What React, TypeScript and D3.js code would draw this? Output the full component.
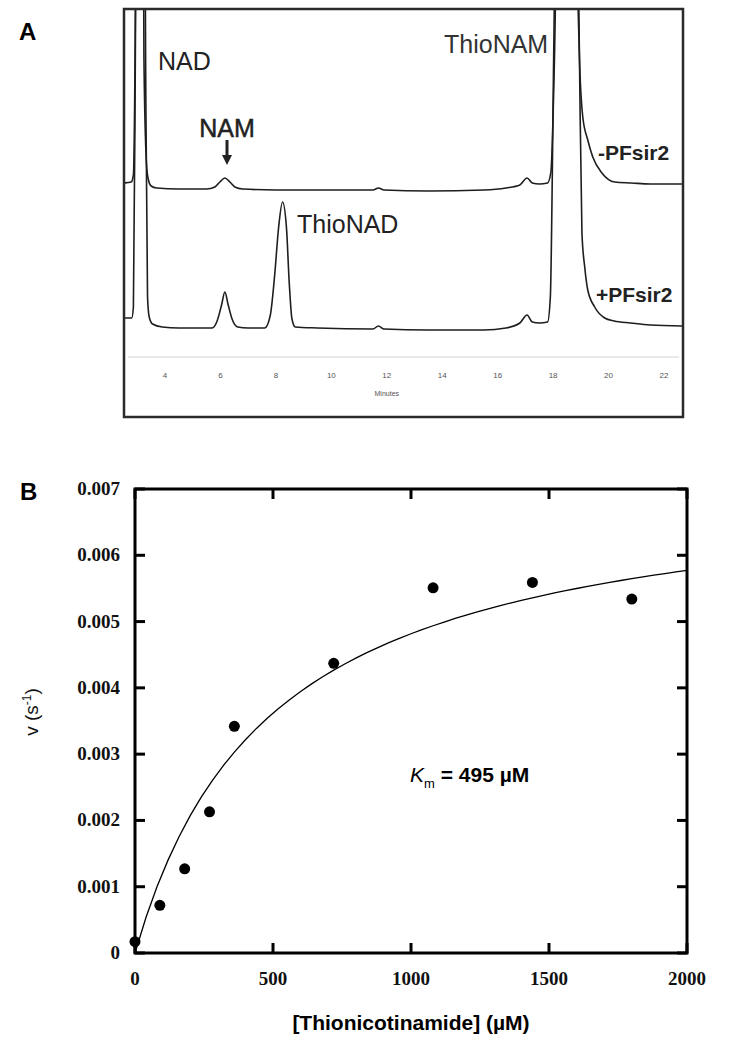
import React from 'react';
import * as d3 from 'd3';

// ---- Panel A: HPLC traces, [minutes, detector signal] ----
const minusTrace: [number, number][] = [
  [2.5, 174], [2.78, 175], [2.86, 182], [2.92, 300], [3.08, 1400], [3.24, 300], [3.32, 200],
  [3.38, 180], [3.5, 171], [3.7, 169], [4.5, 168], [5.5, 168], [5.8, 170], [5.98, 175],
  [6.16, 179], [6.34, 175], [6.52, 170], [6.8, 168], [8.0, 167], [10.0, 167], [11.5, 167],
  [11.7, 169], [11.9, 167], [13.5, 166], [15.5, 167], [16.3, 169], [16.8, 172], [17.06, 179],
  [17.25, 174], [17.5, 173], [17.8, 174], [17.92, 185], [18.05, 300], [18.5, 1400], [18.9, 350],
  [18.96, 290], [19.07, 240], [19.25, 217], [19.43, 200], [19.76, 184], [20.22, 175],
  [20.83, 174], [21.5, 173], [22.7, 173],
];
const plusTrace: [number, number][] = [
  [2.5, 39], [2.8, 39], [2.86, 50], [2.93, 300], [3.12, 1500], [3.3, 300], [3.37, 60],
  [3.43, 40], [3.55, 33], [3.9, 30], [4.5, 29], [5.7, 29], [5.88, 36], [6.04, 52], [6.16, 65],
  [6.28, 52], [6.42, 38], [6.62, 30], [7.0, 29], [7.6, 29], [7.8, 42], [7.95, 80], [8.1, 130],
  [8.24, 155], [8.38, 130], [8.48, 75], [8.58, 38], [8.7, 30], [9.5, 29], [11.5, 28],
  [11.7, 31], [11.9, 28], [13.5, 27], [15.5, 27], [16.3, 29], [16.8, 34], [17.06, 42],
  [17.25, 35], [17.5, 34], [17.8, 35], [17.9, 60], [18.02, 300], [18.5, 1500], [18.95, 300],
  [19.04, 124], [19.14, 90], [19.25, 67], [19.5, 50], [19.86, 39], [20.2, 36], [20.8, 34],
  [21.5, 32], [22.7, 31],
];
const minuteTicks = [4, 6, 8, 10, 12, 14, 16, 18, 20, 22];

// ---- Panel B: rate vs thionicotinamide ----
const concentration = [0, 90, 180, 270, 360, 720, 1080, 1440, 1800];
const rate = [0.00017, 0.00072, 0.00127, 0.00213, 0.00342, 0.00437, 0.00551, 0.00559, 0.00534];
const concTicks = [0, 500, 1000, 1500, 2000];
const rateTicks = [0, 0.001, 0.002, 0.003, 0.004, 0.005, 0.006, 0.007];
const KM = 495;
const VMAX = 0.0072;

const sans = 'Arial, "Liberation Sans", sans-serif';
const serif = '"Times New Roman", "Liberation Serif", serif';

const App = () => {
  // panel A frame
  const fa = { l: 124, r: 683, t: 9, b: 417 };
  const xA = d3.scaleLinear().domain([4, 22]).range([165, 664]);
  const yA = d3.scaleLinear().domain([0, 348]).range([357, 9]);
  const traceLine = d3
    .line<[number, number]>()
    .x((d) => xA(d[0]))
    .y((d) => yA(d[1]))
    .curve(d3.curveMonotoneX);

  // panel B frame
  const fb = { l: 135, r: 687, t: 489, b: 953 };
  const xB = d3.scaleLinear().domain([0, 2000]).range([fb.l, fb.r]);
  const yB = d3.scaleLinear().domain([0, 0.007]).range([fb.b, fb.t]);
  const fit = d3.range(0, 2001, 40).map((s) => [s, (VMAX * s) / (KM + s)] as [number, number]);
  const fitLine = d3
    .line<[number, number]>()
    .x((d) => xB(d[0]))
    .y((d) => yB(d[1]));

  return (
    <svg
      width={732}
      height={1050}
      style={{ position: 'absolute', left: 0, top: 0, background: '#fff' }}
      fontFamily={sans}
    >
      <rect width={732} height={1050} fill="#fff" />

      {/* ---------- A ---------- */}
      <text x={19} y={40} fontSize={24} fontWeight="bold" fill="#000">A</text>
      <defs>
        <clipPath id="clipA">
          <rect x={fa.l + 1} y={fa.t + 1} width={fa.r - fa.l - 2} height={fa.b - fa.t - 2} />
        </clipPath>
      </defs>
      <line x1={fa.l + 4} x2={fa.r - 4} y1={357} y2={357} stroke="#d4d4d4" strokeWidth={1} />
      <g clipPath="url(#clipA)" fill="none" stroke="#1e1e1e" strokeWidth={1.6}>
        <path d={traceLine(minusTrace) ?? ''} />
        <path d={traceLine(plusTrace) ?? ''} />
      </g>
      <rect x={fa.l} y={fa.t} width={fa.r - fa.l} height={fa.b - fa.t} fill="none" stroke="#2a2a2a" strokeWidth={2.5} />
      {minuteTicks.map((t) => (
        <text key={t} x={xA(t)} y={378} fontSize={8} fill="#555" textAnchor="middle">{t}</text>
      ))}
      <text x={xA(12)} y={396} fontSize={7} fill="#555" textAnchor="middle">Minutes</text>

      <g fill="#222" fontSize={25}>
        <text x={158} y={70}>NAD</text>
        <text x={227} y={137} textAnchor="middle" stroke="#222" strokeWidth={0.5}>NAM</text>
        <text x={297} y={233}>ThioNAD</text>
        <text x={444} y={53} fill="#333">ThioNAM</text>
      </g>
      <line x1={227} x2={227} y1={140} y2={157} stroke="#222" strokeWidth={3} />
      <path d="M222,155 L232,155 L227,165 Z" fill="#222" />
      <g fill="#222" fontSize={21} fontWeight="bold">
        <text x={598} y={160}>-PFsir2</text>
        <text x={596} y={302}>+PFsir2</text>
      </g>

      {/* ---------- B ---------- */}
      <text x={20} y={500} fontSize={24} fontWeight="bold" fill="#000">B</text>
      <rect x={fb.l} y={fb.t} width={fb.r - fb.l} height={fb.b - fb.t} fill="none" stroke="#000" strokeWidth={3} />
      {rateTicks.map((v) => (
        <g key={v}>
          <line x1={fb.l} x2={fb.l + 10} y1={yB(v)} y2={yB(v)} stroke="#000" strokeWidth={3} />
          <line x1={fb.r} x2={fb.r - 10} y1={yB(v)} y2={yB(v)} stroke="#000" strokeWidth={3} />
          <text x={120} y={yB(v) + 6} textAnchor="end" fontFamily={serif} fontWeight="bold" fontSize={19} fill="#111">
            {v === 0 ? '0' : v.toFixed(3)}
          </text>
        </g>
      ))}
      {concTicks.map((c) => (
        <g key={c}>
          <line x1={xB(c)} x2={xB(c)} y1={fb.b} y2={fb.b - 10} stroke="#000" strokeWidth={3} />
          <line x1={xB(c)} x2={xB(c)} y1={fb.t} y2={fb.t + 10} stroke="#000" strokeWidth={3} />
          <text x={xB(c)} y={985} textAnchor="middle" fontFamily={serif} fontWeight="bold" fontSize={19} fill="#111">
            {c}
          </text>
        </g>
      ))}
      <path d={fitLine(fit) ?? ''} fill="none" stroke="#000" strokeWidth={1.3} />
      {concentration.map((c, i) => (
        <circle key={c} cx={xB(c)} cy={yB(rate[i])} r={5.5} fill="#000" />
      ))}
      <text x={410} y={782} fontSize={21} fontWeight="bold" fill="#000">
        <tspan fontStyle="italic" fontWeight="normal">K</tspan>
        <tspan fontSize={13} fontWeight="normal" dy={6}>m</tspan>
        <tspan dy={-6}> = 495 µM</tspan>
      </text>
      <text x={(fb.l + fb.r) / 2} y={1030} textAnchor="middle" fontSize={21} fontWeight="bold" fill="#000">
        [Thionicotinamide] (µM)
      </text>
      <text transform="translate(38,712) rotate(-90)" textAnchor="middle" fontSize={19} fill="#111">
        v (s<tspan fontSize={12} dy={-7}>-1</tspan><tspan dy={7}>)</tspan>
      </text>
    </svg>
  );
};

export default App;
